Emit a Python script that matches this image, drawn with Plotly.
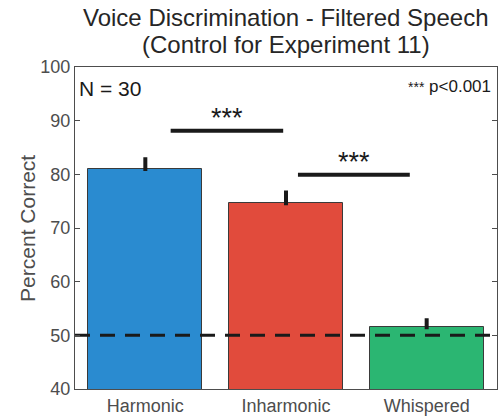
import plotly.graph_objects as go

# Mean percent correct and standard error per condition
conditions = ["Harmonic", "Inharmonic", "Whispered"]
percent_correct = [81.0, 74.6, 51.5]
sem = [1.8, 2.0, 1.3]
bar_colors = ["#2a8bd0", "#e14b3c", "#2bb672"]

# Pairwise comparison brackets: (x start, x end, height, label)
comparisons = [
    (1.18, 1.98, 88.1, "***"),
    (2.085, 2.88, 79.9, "***"),
]
chance_level = 50
y_ticks = [40, 50, 60, 70, 80, 90, 100]
title_lines = ["Voice Discrimination - Filtered Speech", "(Control for Experiment 11)"]

FONT = "Liberation Sans, Arial, Helvetica, sans-serif"
x_pos = [1, 2, 3]

fig = go.Figure()
fig.add_trace(go.Bar(
    x=x_pos,
    y=percent_correct,
    width=0.81,
    marker=dict(color=bar_colors, line=dict(color="#3a3a3a", width=1)),
    error_y=dict(type="data", array=sem, arrayminus=[0] * len(sem),
                 symmetric=False, color="#1a1a1a", thickness=4, width=2),
    showlegend=False,
))

# Chance line
fig.add_trace(go.Scatter(
    x=[0.5, 3.5], y=[chance_level, chance_level], mode="lines",
    line=dict(color="#1a1a1a", width=3, dash="15px,10px"),
    showlegend=False, hoverinfo="skip",
))

for x0, x1, h, lab in comparisons:
    fig.add_trace(go.Scatter(
        x=[x0, x1], y=[h, h], mode="lines",
        line=dict(color="#1a1a1a", width=4),
        showlegend=False, hoverinfo="skip",
    ))
    fig.add_annotation(x=(x0 + x1) / 2, y=h, text=lab, showarrow=False,
                       yanchor="bottom", yshift=-4,
                       font=dict(family=FONT, size=27, color="#1a1a1a"))

fig.add_annotation(xref="paper", yref="paper", x=0.005, y=0.975,
                   xanchor="left", yanchor="top", text="N = 30", showarrow=False,
                   font=dict(family=FONT, size=21, color="#1a1a1a"))
fig.add_annotation(xref="paper", yref="paper", x=0.99, y=0.975,
                   xanchor="right", yanchor="top",
                   text="<span style='font-size:14px'>***</span> p&lt;0.001",
                   showarrow=False,
                   font=dict(family=FONT, size=17, color="#1a1a1a"))

# Two-line title centred over the plot area
for text, yp in zip(title_lines, [1.155, 1.071]):
    fig.add_annotation(xref="paper", yref="paper", x=0.5, y=yp,
                       xanchor="center", yanchor="middle", text=text,
                       showarrow=False,
                       font=dict(family=FONT, size=24, color="#262626"))

# Vertical axis title
fig.add_annotation(xref="paper", yref="paper", x=-0.114, y=0.5,
                   xanchor="center", yanchor="middle", textangle=-90,
                   text="Percent Correct", showarrow=False,
                   font=dict(family=FONT, size=21, color="#4d4d4d"))

fig.update_layout(
    width=499, height=418,
    margin=dict(l=75, r=2, t=67, b=29),
    paper_bgcolor="white", plot_bgcolor="white",
    font=dict(family=FONT, color="#4d4d4d"),
    bargap=0,
)
fig.update_xaxes(
    range=[0.5, 3.5], tickvals=x_pos, ticktext=conditions, ticks="",
    showline=True, linecolor="#4d4d4d", linewidth=1, mirror=True,
    showgrid=False, zeroline=False,
    tickfont=dict(family=FONT, size=18, color="#4d4d4d"),
)
fig.update_yaxes(
    range=[40, 100], tickvals=y_ticks, ticks="inside", ticklen=5,
    tickcolor="#4d4d4d", showline=True, linecolor="#4d4d4d", linewidth=1,
    mirror="ticks", showgrid=False, zeroline=False,
    tickfont=dict(family=FONT, size=18, color="#4d4d4d"),
)

fig.write_html("out.html")
